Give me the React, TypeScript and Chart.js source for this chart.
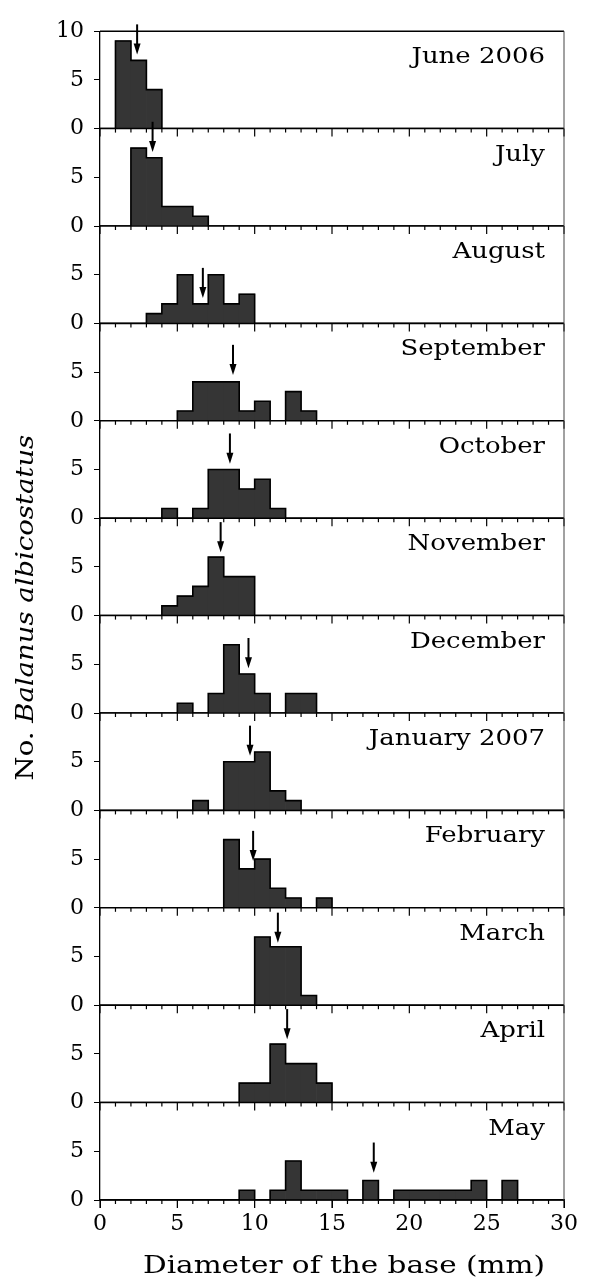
import React, { useEffect, useRef } from 'react';
import { Chart, registerables } from 'chart.js';

Chart.register(...registerables);

// ---------- data ----------
const months = [
  'June 2006', 'July', 'August', 'September', 'October', 'November',
  'December', 'January 2007', 'February', 'March', 'April', 'May',
];

// left edges of 1-mm size classes
const binStarts = [0, 1, 2, 3, 4, 5, 6, 7, 8, 9, 10, 11, 12, 13, 14, 15, 16, 17, 18, 19, 20, 21, 22, 23, 24, 25, 26, 27, 28, 29];
const binEnd = 30;

//                      0  1  2  3  4  5  6  7  8  9 10 11 12 13 14 15 16 17 18 19 20 21 22 23 24 25 26 27 28 29
const juneCounts =     [0, 9, 7, 4, 0, 0, 0, 0, 0, 0, 0, 0, 0, 0, 0, 0, 0, 0, 0, 0, 0, 0, 0, 0, 0, 0, 0, 0, 0, 0];
const julyCounts =     [0, 0, 8, 7, 2, 2, 1, 0, 0, 0, 0, 0, 0, 0, 0, 0, 0, 0, 0, 0, 0, 0, 0, 0, 0, 0, 0, 0, 0, 0];
const augustCounts =   [0, 0, 0, 1, 2, 5, 2, 5, 2, 3, 0, 0, 0, 0, 0, 0, 0, 0, 0, 0, 0, 0, 0, 0, 0, 0, 0, 0, 0, 0];
const septemberCounts =[0, 0, 0, 0, 0, 1, 4, 4, 4, 1, 2, 0, 3, 1, 0, 0, 0, 0, 0, 0, 0, 0, 0, 0, 0, 0, 0, 0, 0, 0];
const octoberCounts =  [0, 0, 0, 0, 1, 0, 1, 5, 5, 3, 4, 1, 0, 0, 0, 0, 0, 0, 0, 0, 0, 0, 0, 0, 0, 0, 0, 0, 0, 0];
const novemberCounts = [0, 0, 0, 0, 1, 2, 3, 6, 4, 4, 0, 0, 0, 0, 0, 0, 0, 0, 0, 0, 0, 0, 0, 0, 0, 0, 0, 0, 0, 0];
const decemberCounts = [0, 0, 0, 0, 0, 1, 0, 2, 7, 4, 2, 0, 2, 2, 0, 0, 0, 0, 0, 0, 0, 0, 0, 0, 0, 0, 0, 0, 0, 0];
const januaryCounts =  [0, 0, 0, 0, 0, 0, 1, 0, 5, 5, 6, 2, 1, 0, 0, 0, 0, 0, 0, 0, 0, 0, 0, 0, 0, 0, 0, 0, 0, 0];
const februaryCounts = [0, 0, 0, 0, 0, 0, 0, 0, 7, 4, 5, 2, 1, 0, 1, 0, 0, 0, 0, 0, 0, 0, 0, 0, 0, 0, 0, 0, 0, 0];
const marchCounts =    [0, 0, 0, 0, 0, 0, 0, 0, 0, 0, 7, 6, 6, 1, 0, 0, 0, 0, 0, 0, 0, 0, 0, 0, 0, 0, 0, 0, 0, 0];
const aprilCounts =    [0, 0, 0, 0, 0, 0, 0, 0, 0, 2, 2, 6, 4, 4, 2, 0, 0, 0, 0, 0, 0, 0, 0, 0, 0, 0, 0, 0, 0, 0];
const mayCounts =      [0, 0, 0, 0, 0, 0, 0, 0, 0, 1, 0, 1, 4, 1, 1, 1, 0, 2, 0, 1, 1, 1, 1, 1, 2, 0, 2, 0, 0, 0];

const monthCounts = [
  juneCounts, julyCounts, augustCounts, septemberCounts, octoberCounts, novemberCounts,
  decemberCounts, januaryCounts, februaryCounts, marchCounts, aprilCounts, mayCounts,
];

// mean diameter (arrow position, mm) and arrow tip height (count units)
const meanDiameter = [2.4, 3.4, 6.65, 8.6, 8.4, 7.8, 9.6, 9.7, 9.9, 11.5, 12.1, 17.7];
const arrowTipValue = [7.6, 7.6, 2.6, 4.7, 5.6, 6.5, 4.6, 5.6, 4.8, 6.4, 6.5, 2.8];
const arrowLength = 3.1;

const xTickValues = [0, 5, 10, 15, 20, 25, 30];
const xMinorTickValues = [0, 1, 2, 3, 4, 5, 6, 7, 8, 9, 10, 11, 12, 13, 14, 15, 16, 17, 18, 19, 20, 21, 22, 23, 24, 25, 26, 27, 28, 29, 30];
const yTickValues = [0, 5, 10];

const xTitle = 'Diameter of the base (mm)';
const yTitlePlain = 'No. ';
const yTitleItalic = 'Balanus albicostatus';

// ---------- styling ----------
const SERIF = '"DejaVu Serif", "Liberation Serif", serif';
const BAR_FILL = '#353535';

const decorPlugin = {
  id: 'decor',
  afterDatasetsDraw(chart: any) {
    const ctx: CanvasRenderingContext2D = chart.ctx;
    const x = chart.scales.x;
    ctx.save();
    const line = (x1: number, y1: number, x2: number, y2: number) => {
      ctx.beginPath();
      ctx.moveTo(x1, y1);
      ctx.lineTo(x2, y2);
      ctx.stroke();
    };
    months.forEach((name, i) => {
      const y = chart.scales['y' + i];
      // frame
      ctx.strokeStyle = '#000';
      ctx.lineWidth = 1.5;
      line(x.left, y.bottom, x.right, y.bottom);
      if (i === 0) line(x.left, y.top, x.right, y.top);
      ctx.lineWidth = 1;
      ctx.strokeStyle = '#444';
      line(x.right, y.top, x.right, y.bottom);
      // x ticks under each panel
      ctx.strokeStyle = '#000';
      ctx.lineWidth = 1.2;
      xMinorTickValues.forEach((v) => {
        const px = x.getPixelForValue(v);
        const len = v % 5 === 0 ? 8 : 4;
        line(px, y.bottom, px, y.bottom + len);
      });
      // arrow marking the mean
      const ax = x.getPixelForValue(meanDiameter[i]);
      const tip = y.getPixelForValue(arrowTipValue[i]);
      const tail = y.getPixelForValue(arrowTipValue[i] + arrowLength);
      ctx.lineWidth = 2;
      line(ax, tail, ax, tip - 8);
      ctx.fillStyle = '#000';
      ctx.beginPath();
      ctx.moveTo(ax - 3.5, tip - 11);
      ctx.lineTo(ax + 3.5, tip - 11);
      ctx.lineTo(ax, tip);
      ctx.closePath();
      ctx.fill();
      // month label
      ctx.save();
      ctx.font = `22px ${SERIF}`;
      ctx.textAlign = 'right';
      ctx.textBaseline = 'alphabetic';
      ctx.translate(x.right - 19, y.top + 32);
      ctx.scale(1.18, 1);
      ctx.fillStyle = '#000';
      ctx.fillText(name, 0, 0);
      ctx.restore();
    });

    // x-axis title
    ctx.save();
    ctx.font = `25px ${SERIF}`;
    ctx.textAlign = 'center';
    ctx.textBaseline = 'alphabetic';
    ctx.fillStyle = '#000';
    ctx.translate((x.left + x.right) / 2 + 12, x.bottom - 7);
    ctx.scale(1.18, 1);
    ctx.fillText(xTitle, 0, 0);
    ctx.restore();

    // y-axis title (mixed roman / italic)
    const yTop = chart.scales.y0.top;
    const yBottom = chart.scales['y' + (months.length - 1)].bottom;
    ctx.save();
    ctx.fillStyle = '#000';
    ctx.translate(25, (yTop + yBottom) / 2 - 8);
    ctx.rotate(-Math.PI / 2);
    ctx.scale(1.1, 1);
    ctx.textBaseline = 'alphabetic';
    ctx.textAlign = 'left';
    ctx.font = `25px ${SERIF}`;
    const w1 = ctx.measureText(yTitlePlain).width;
    ctx.font = `italic 25px ${SERIF}`;
    const w2 = ctx.measureText(yTitleItalic).width;
    const start = -(w1 + w2) / 2;
    ctx.font = `25px ${SERIF}`;
    ctx.fillText(yTitlePlain, start, 0);
    ctx.font = `italic 25px ${SERIF}`;
    ctx.fillText(yTitleItalic, start + w1, 0);
    ctx.restore();

    ctx.restore();
  },
};

export default function App() {
  const canvasRef = useRef<HTMLCanvasElement | null>(null);

  useEffect(() => {
    if (!canvasRef.current) return;

    const datasets: any[] = [];
    monthCounts.forEach((counts, i) => {
      const yID = 'y' + i;
      datasets.push({
        type: 'line',
        label: months[i] + ' outline',
        xAxisID: 'x',
        yAxisID: yID,
        data: [...binStarts.map((b, j) => ({ x: b, y: counts[j] })), { x: binEnd, y: 0 }],
        stepped: 'before',
        borderColor: '#000',
        borderWidth: 1.6,
        pointRadius: 0,
        fill: false,
        order: 0,
      });
      datasets.push({
        type: 'bar',
        label: months[i],
        xAxisID: 'x',
        yAxisID: yID,
        data: binStarts.map((b, j) => ({ x: b + 0.5, y: counts[j] })),
        backgroundColor: BAR_FILL,
        borderWidth: 0,
        barPercentage: 1,
        categoryPercentage: 1,
        grouped: false,
        order: 1,
      });
    });

    const scales: any = {
      x: {
        type: 'linear',
        position: 'bottom',
        min: 0,
        max: 30,
        offset: false,
        afterBuildTicks: (s: any) => {
          s.ticks = xTickValues.map((v) => ({ value: v }));
        },
        ticks: {
          font: { family: SERIF, size: 22 },
          color: '#000',
          padding: 3,
          maxRotation: 0,
          autoSkip: false,
        },
        grid: { drawOnChartArea: false, drawTicks: true, tickLength: 8, color: '#000', offset: false },
        border: { display: true, color: '#000', width: 1.5 },
        afterFit: (s: any) => {
          s.height = 80;
        },
      },
    };
    // stacked left axes are laid out bottom-up in config order, so add the last month first
    for (let i = months.length - 1; i >= 0; i--) {
      scales['y' + i] = {
        type: 'linear',
        position: 'left',
        stack: 'months',
        stackWeight: 1,
        min: 0,
        max: 10,
        afterBuildTicks: (s: any) => {
          const vals = i === 0 ? yTickValues : yTickValues.slice(0, 2);
          s.ticks = vals.map((v) => ({ value: v }));
        },
        ticks: { font: { family: SERIF, size: 22 }, color: '#000', padding: 10, autoSkip: false },
        grid: { drawOnChartArea: false, drawTicks: true, tickLength: 6, color: '#000' },
        border: { display: true, color: '#000', width: 1.3 },
        afterFit: (s: any) => {
          s.width = 92;
        },
      };
    }

    const chart = new Chart(canvasRef.current, {
      type: 'bar',
      data: { datasets },
      options: {
        animation: false,
        responsive: true,
        maintainAspectRatio: false,
        layout: { autoPadding: false, padding: { top: 12, right: 16, left: 0, bottom: 0 } },
        plugins: { legend: { display: false }, tooltip: { enabled: false } },
        scales,
      } as any,
      plugins: [decorPlugin],
    } as any);

    return () => chart.destroy();
  }, []);

  return (
    <div style={{ position: 'relative', width: 573, height: 1272 }}>
      <canvas ref={canvasRef} />
    </div>
  );
}
